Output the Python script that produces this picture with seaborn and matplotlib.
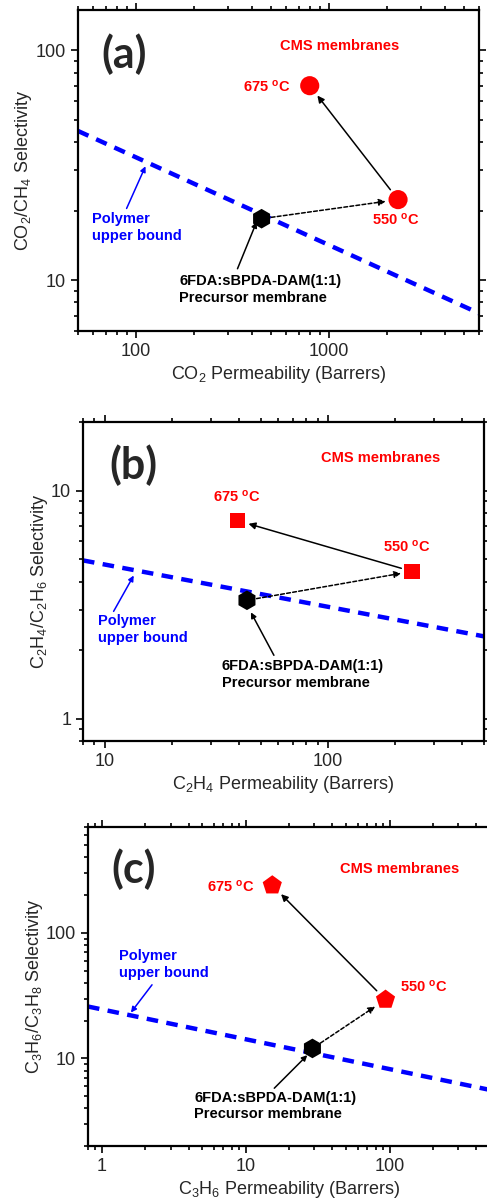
import matplotlib
matplotlib.use("Agg")
import matplotlib.pyplot as plt
import matplotlib.ticker as mticker
import seaborn as sns
import pandas as pd

# ---- data (permeability in Barrers, selectivity) ----
# order: precursor, 550 C, 675 C
co2_perm = [448, 2285, 796]
co2_sel = [18.5, 22.4, 70.2]
co2_bound_perm = [50, 6000]
co2_bound_sel = [44.6, 7.17]

c2_perm = [43.4, 238, 39.5]
c2_sel = [3.31, 4.43, 7.39]
c2_bound_perm = [8, 500]
c2_bound_sel = [4.95, 2.30]

c3_perm = [29.1, 93.8, 15.3]
c3_sel = [12.0, 29.4, 240]
c3_bound_perm = [0.8, 500]
c3_bound_sel = [25.9, 5.6]

sns.set_style("ticks")
plt.rcParams['font.family'] = ['Liberation Sans', 'DejaVu Sans']
plt.rcParams['mathtext.fontset'] = 'custom'
plt.rcParams['mathtext.rm'] = 'Liberation Sans'
plt.rcParams['mathtext.it'] = 'Liberation Sans:italic'
plt.rcParams['mathtext.bf'] = 'Liberation Sans:bold'

RED = '#ff0000'
BLUE = '#0000ff'

fig = plt.figure(figsize=(4.87, 12.01), dpi=100)

panels = [
    dict(rect=[0.160, 0.7244, 0.8234, 0.2673], perm=co2_perm, sel=co2_sel,
         bperm=co2_bound_perm, bsel=co2_bound_sel, marker='o', s=190, ms_pts=7,
         xlim=(50, 6000), ylim=(6, 150),
         xlabel=r'CO$_2$ Permeability (Barrers)', ylabel=r'CO$_2$/CH$_4$ Selectivity',
         tag='(a)', tag_xy=(86.6, 96), cms_xy=(1140, 105),
         t675=((634, 69.5), 'right'), t550=((2233, 18.3), 'center'),
         poly_xy=(59, 17.0), poly_arrow=((89.4, 20.5), (112, 31.3)),
         prec_xy=(168, 9.08), prec_arrow=((336, 11.2), (422, 17.9))),
    dict(rect=[0.1704, 0.383, 0.8234, 0.2656], perm=c2_perm, sel=c2_sel,
         bperm=c2_bound_perm, bsel=c2_bound_sel, marker='s', s=120, ms_pts=6,
         xlim=(8, 500), ylim=(0.8, 20),
         xlabel=r'C$_2$H$_4$ Permeability (Barrers)', ylabel=r'C$_2$H$_4$/C$_2$H$_6$ Selectivity',
         tag='(b)', tag_xy=(13.4, 13.0), cms_xy=(173, 13.9),
         t675=((39.1, 9.42), 'center'), t550=((226, 5.69), 'center'),
         poly_xy=(9.3, 2.47), poly_arrow=((10.97, 2.96), (13.5, 4.25)),
         prec_xy=(33.5, 1.56), prec_arrow=((57.3, 1.90), (45.2, 2.93))),
    dict(rect=[0.1807, 0.0458, 0.8255, 0.2656], perm=c3_perm, sel=c3_sel,
         bperm=c3_bound_perm, bsel=c3_bound_sel, marker='p', s=210, ms_pts=7,
         xlim=(0.8, 500), ylim=(2, 700),
         xlabel=r'C$_3$H$_6$ Permeability (Barrers)', ylabel=r'C$_3$H$_6$/C$_3$H$_8$ Selectivity',
         tag='(c)', tag_xy=(1.67, 322), cms_xy=(117, 322),
         t675=((11.5, 236), 'right'), t550=((119, 37.3), 'left'),
         poly_xy=(1.31, 55.7), poly_arrow=((2.23, 38.6), (1.59, 23.2)),
         prec_xy=(4.38, 4.16), prec_arrow=((15.8, 5.78), (26.8, 10.6))),
]

bold = dict(fontweight='bold', fontsize=10.5)

for p in panels:
    ax = fig.add_axes(p['rect'])
    ax.set_xscale('log')
    ax.set_yscale('log')

    # polymer upper bound
    bound = pd.DataFrame({'perm': p['bperm'], 'sel': p['bsel']})
    sns.lineplot(data=bound, x='perm', y='sel', ax=ax, color=BLUE, lw=3.2,
                 dashes=False, zorder=2)
    ax.lines[-1].set_dashes((2.6, 1.9))

    # precursor (black hexagon) and CMS membranes (red)
    sns.scatterplot(x=p['perm'][:1], y=p['sel'][:1], ax=ax, marker='h', s=200,
                    color='black', edgecolor='none', zorder=4)
    sns.scatterplot(x=p['perm'][1:], y=p['sel'][1:], ax=ax, marker=p['marker'],
                    s=p['s'], color=RED, edgecolor='none', zorder=4)

    # arrows between the points
    ax.annotate('', xy=(p['perm'][1], p['sel'][1]), xytext=(p['perm'][0], p['sel'][0]),
                arrowprops=dict(arrowstyle='-|>', color='black', lw=1.1, ls=(0, (2.5, 1.5)),
                                shrinkA=7, shrinkB=p['ms_pts'] + 2, mutation_scale=10), zorder=3)
    ax.annotate('', xy=(p['perm'][2], p['sel'][2]), xytext=(p['perm'][1], p['sel'][1]),
                arrowprops=dict(arrowstyle='-|>', color='black', lw=1.1,
                                shrinkA=p['ms_pts'] + 2, shrinkB=p['ms_pts'] + 2,
                                mutation_scale=10), zorder=3)

    # labels
    ax.text(*p['tag_xy'], p['tag'], family='Lato', fontweight='bold', fontsize=31,
            ha='center', va='center')
    ax.text(*p['cms_xy'], 'CMS membranes', color=RED, ha='center', va='center', **bold)
    ax.text(*p['t675'][0], r'675 $^{\mathbf{o}}$C', color=RED, ha=p['t675'][1],
            va='center', **bold)
    ax.text(*p['t550'][0], r'550 $^{\mathbf{o}}$C', color=RED, ha=p['t550'][1],
            va='center', **bold)
    ax.text(*p['poly_xy'], 'Polymer\nupper bound', color=BLUE, ha='left', va='center',
            linespacing=1.25, **bold)
    ax.annotate('', xy=p['poly_arrow'][1], xytext=p['poly_arrow'][0],
                arrowprops=dict(arrowstyle='-|>', color=BLUE, lw=1.1, mutation_scale=8,
                                shrinkA=0, shrinkB=0))
    ax.text(*p['prec_xy'], '6FDA:sBPDA-DAM(1:1)\nPrecursor membrane', color='black',
            ha='left', va='center', linespacing=1.25, **bold)
    ax.annotate('', xy=p['prec_arrow'][1], xytext=p['prec_arrow'][0],
                arrowprops=dict(arrowstyle='-|>', color='black', lw=1.1, mutation_scale=8,
                                shrinkA=0, shrinkB=0))

    ax.set_xlim(*p['xlim'])
    ax.set_ylim(*p['ylim'])
    ax.set_xlabel(p['xlabel'], fontsize=13, labelpad=3)
    ax.set_ylabel(p['ylabel'], fontsize=13, labelpad=1)

    fmt = mticker.FuncFormatter(lambda v, pos: '%g' % v)
    ax.xaxis.set_major_formatter(fmt)
    ax.yaxis.set_major_formatter(fmt)
    ax.xaxis.set_minor_formatter(mticker.NullFormatter())
    ax.yaxis.set_minor_formatter(mticker.NullFormatter())
    ax.tick_params(which='both', direction='out', top=True, right=True, width=1.2,
                   labelsize=13, color='black')
    ax.tick_params(which='major', length=5)
    ax.tick_params(which='minor', length=3)
    for sp in ax.spines.values():
        sp.set_linewidth(1.6)
        sp.set_color('black')

plt.savefig('out.png', dpi=100)
